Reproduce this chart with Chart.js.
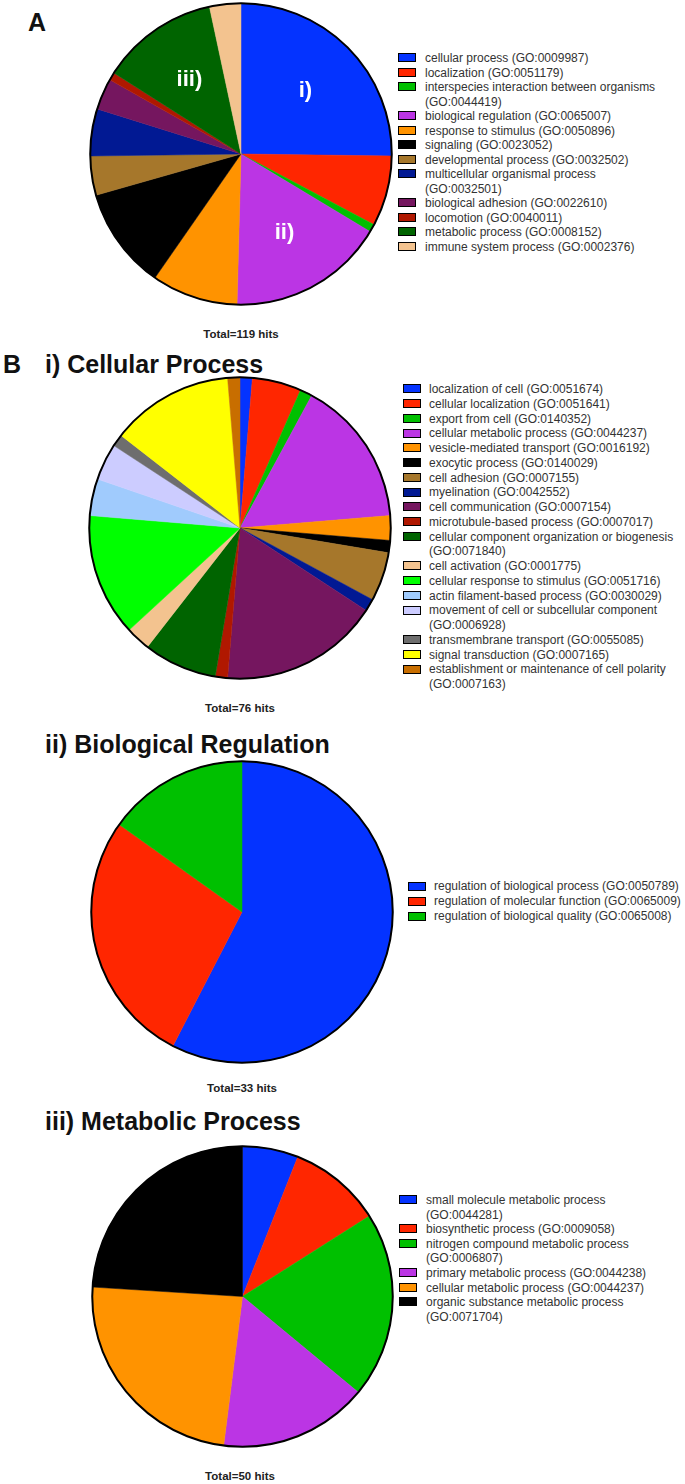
<!DOCTYPE html>
<html>
<head>
<meta charset="utf-8">
<script src="https://cdn.jsdelivr.net/npm/chart.js@4.4.1/dist/chart.umd.min.js"></script>
<style>
body { margin: 0; width: 685px; height: 1484px; position: relative; background: #fff; overflow: hidden;
       font-family: "Liberation Sans", Arial, sans-serif; }
.pie { position: absolute; }
.title { position: absolute; font-weight: bold; font-size: 25px; line-height: 25px; color: #111; white-space: nowrap; }
.total { position: absolute; font-weight: bold; font-size: 11.5px; line-height: 11.5px; color: #222;
         transform: translateX(-50%); white-space: nowrap; }
.legend { position: absolute; font-size: 12px; color: #333; white-space: pre; }
.legend .item { position: relative; }
.legend .sw { position: absolute; left: 0; top: 2px; width: 16px; height: 7px; border: 1.5px solid #000; }
</style>
</head>
<body>

<div class="title" style="left:28px;top:10px">A</div>
<canvas id="pieA" class="pie" width="308" height="308" style="left:87px;top:0px"></canvas>
<div id="legA" class="legend" style="left:398px;top:51px"></div>
<div class="total" style="left:241px;top:329px">Total=119 hits</div>

<div class="title" style="left:3px;top:352px">B</div>
<div class="title" style="left:45px;top:352px">i) Cellular Process</div>
<canvas id="pieB1" class="pie" width="308" height="308" style="left:86px;top:374px"></canvas>
<div id="legB1" class="legend" style="left:403px;top:382px"></div>
<div class="total" style="left:240px;top:703px">Total=76 hits</div>

<div class="title" style="left:45px;top:732px">ii) Biological Regulation</div>
<canvas id="pieB2" class="pie" width="308" height="308" style="left:88px;top:758px"></canvas>
<div id="legB2" class="legend" style="left:408px;top:879px"></div>
<div class="total" style="left:242px;top:1083px">Total=33 hits</div>

<div class="title" style="left:45px;top:1109px">iii) Metabolic Process</div>
<canvas id="pieB3" class="pie" width="307" height="307" style="left:89px;top:1143px"></canvas>
<div id="legB3" class="legend" style="left:399px;top:1193px"></div>
<div class="total" style="left:240px;top:1471px">Total=50 hits</div>

<script>
// A) GO biological process overview, 119 hits
const overviewLabels = [
    'cellular process (GO:0009987)',
    'localization (GO:0051179)',
    'interspecies interaction between organisms\n(GO:0044419)',
    'biological regulation (GO:0065007)',
    'response to stimulus (GO:0050896)',
    'signaling (GO:0023052)',
    'developmental process (GO:0032502)',
    'multicellular organismal process\n(GO:0032501)',
    'biological adhesion (GO:0022610)',
    'locomotion (GO:0040011)',
    'metabolic process (GO:0008152)',
    'immune system process (GO:0002376)'
];
const overviewHits = [30, 9, 1, 20, 11, 13, 5, 6, 4, 1, 15, 4];
const overviewMarks = ['i)', '', '', 'ii)', '', '', '', '', '', '', 'iii)', ''];

// B i) cellular process, 76 hits
const cellularLabels = [
    'localization of cell (GO:0051674)',
    'cellular localization (GO:0051641)',
    'export from cell (GO:0140352)',
    'cellular metabolic process (GO:0044237)',
    'vesicle-mediated transport (GO:0016192)',
    'exocytic process (GO:0140029)',
    'cell adhesion (GO:0007155)',
    'myelination (GO:0042552)',
    'cell communication (GO:0007154)',
    'microtubule-based process (GO:0007017)',
    'cellular component organization or biogenesis\n(GO:0071840)',
    'cell activation (GO:0001775)',
    'cellular response to stimulus (GO:0051716)',
    'actin filament-based process (GO:0030029)',
    'movement of cell or subcellular component\n(GO:0006928)',
    'transmembrane transport (GO:0055085)',
    'signal transduction (GO:0007165)',
    'establishment or maintenance of cell polarity\n(GO:0007163)'
];
const cellularHits = [1, 4, 1, 12, 2, 1, 4, 1, 13, 1, 6, 2, 10, 3, 3, 1, 10, 1];

// B ii) biological regulation, 33 hits
const regulationLabels = [
    'regulation of biological process (GO:0050789)',
    'regulation of molecular function (GO:0065009)',
    'regulation of biological quality (GO:0065008)'
];
const regulationHits = [19, 9, 5];

// B iii) metabolic process, 50 hits
const metabolicLabels = [
    'small molecule metabolic process\n(GO:0044281)',
    'biosynthetic process (GO:0009058)',
    'nitrogen compound metabolic process\n(GO:0006807)',
    'primary metabolic process (GO:0044238)',
    'cellular metabolic process (GO:0044237)',
    'organic substance metabolic process\n(GO:0071704)'
];
const metabolicHits = [3, 5, 10, 8, 12, 12];

// colours
const overviewColors = ['#0433FF', '#FF2600', '#00C000', '#BB35E4', '#FF9300', '#000000',
    '#A6772B', '#011993', '#75165F', '#B01800', '#006400', '#F3C38F'];
const cellularColors = ['#0433FF', '#FF2600', '#00C000', '#BB35E4', '#FF9300', '#000000',
    '#A6772B', '#011993', '#75165F', '#B01800', '#006400', '#F3C38F', '#00FF00', '#A0CBFD',
    '#CCCCFF', '#6E6E6E', '#FFFF00', '#C86E00'];
const regulationColors = ['#0433FF', '#FF2600', '#00C000'];
const metabolicColors = ['#0433FF', '#FF2600', '#00C000', '#BB35E4', '#FF9300', '#000000'];

// black rim around the pie (outer edge only, like the original)
const rimPlugin = {
    id: 'rim',
    afterDatasetsDraw(chart) {
        const arc = chart.getDatasetMeta(0).data[0];
        const ctx = chart.ctx;
        ctx.save();
        ctx.beginPath();
        ctx.arc(arc.x, arc.y, arc.outerRadius, 0, Math.PI * 2);
        ctx.lineWidth = 2;
        ctx.strokeStyle = '#000';
        ctx.stroke();
        ctx.restore();
    }
};

// white roman numerals inside slices of panel A
const markPlugin = {
    id: 'marks',
    afterDatasetsDraw(chart, args, opts) {
        if (!opts.marks) return;
        const ctx = chart.ctx;
        chart.getDatasetMeta(0).data.forEach((arc, i) => {
            const t = opts.marks[i];
            if (!t) return;
            const a = (arc.startAngle + arc.endAngle) / 2;
            const d = arc.outerRadius * 0.6;
            ctx.save();
            ctx.fillStyle = '#fff';
            ctx.font = 'bold 22px "Liberation Sans", Arial, sans-serif';
            ctx.textAlign = 'center';
            ctx.textBaseline = 'middle';
            ctx.fillText(t, arc.x + Math.cos(a) * d, arc.y + Math.sin(a) * d);
            ctx.restore();
        });
    }
};

function makePie(id, labels, hits, colors, marks) {
    new Chart(document.getElementById(id), {
        type: 'pie',
        data: {
            labels: labels,
            datasets: [{
                data: hits,
                backgroundColor: colors,
                borderColor: colors,
                borderWidth: 0.5
            }]
        },
        options: {
            responsive: false,
            animation: false,
            layout: { padding: 3 },
            plugins: {
                legend: { display: false },
                tooltip: { enabled: false },
                marks: { marks: marks }
            }
        },
        plugins: [rimPlugin, markPlugin]
    });
}

function makeLegend(id, labels, colors, lineH, textX) {
    const box = document.getElementById(id);
    labels.forEach((lab, i) => {
        const item = document.createElement('div');
        item.className = 'item';
        item.style.lineHeight = lineH + 'px';
        item.style.paddingLeft = textX + 'px';
        item.textContent = lab;
        const sw = document.createElement('span');
        sw.className = 'sw';
        sw.style.background = colors[i];
        sw.style.top = (lineH / 2 - 5) + 'px';
        item.appendChild(sw);
        box.appendChild(item);
    });
}

makePie('pieA', overviewLabels, overviewHits, overviewColors, overviewMarks);
makePie('pieB1', cellularLabels, cellularHits, cellularColors, null);
makePie('pieB2', regulationLabels, regulationHits, regulationColors, null);
makePie('pieB3', metabolicLabels, metabolicHits, metabolicColors, null);

makeLegend('legA', overviewLabels, overviewColors, 14.5, 27);
makeLegend('legB1', cellularLabels, cellularColors, 14.75, 26);
makeLegend('legB2', regulationLabels, regulationColors, 15, 26);
makeLegend('legB3', metabolicLabels, metabolicColors, 14.6, 27);
</script>
</body>
</html>
